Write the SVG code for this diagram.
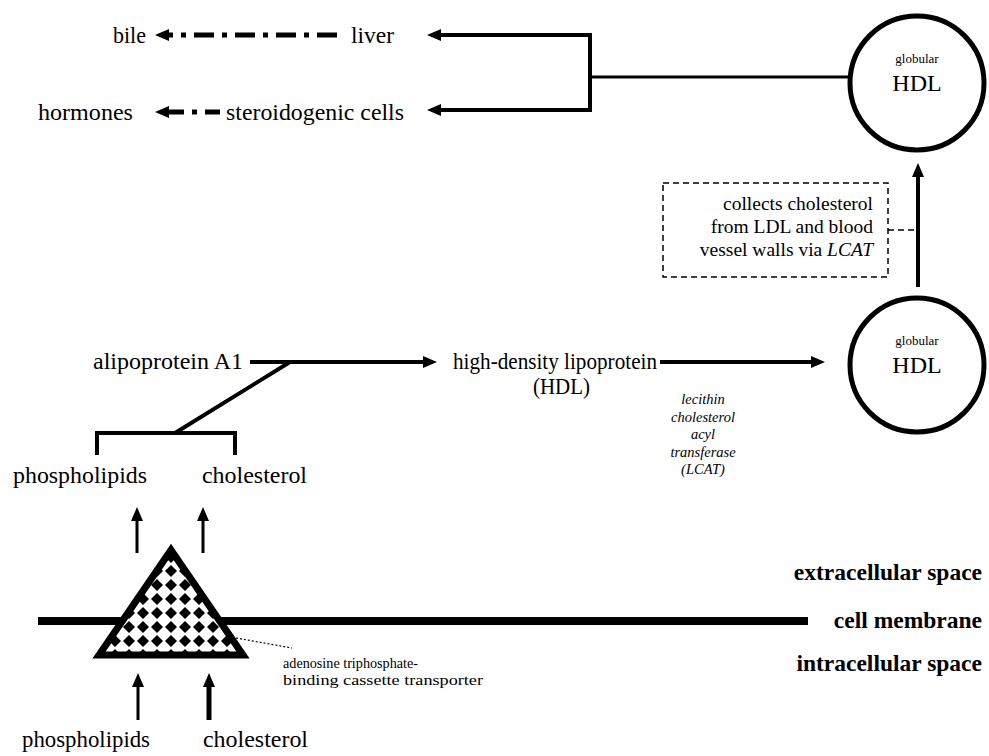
<svg xmlns="http://www.w3.org/2000/svg" width="989" height="756" viewBox="0 0 989 756">
<style>
text{font-family:"Liberation Serif","Times New Roman",serif;fill:#000}
.m{font-size:23px}
.b{font-size:23.5px;font-weight:bold}
.s{font-size:13px}
.h{font-size:24px}
.bx{font-size:19.5px}
.it{font-size:14.5px;font-style:italic}
.ln{stroke:#000;fill:none}
</style>
<defs>
<marker id="ah" viewBox="0 0 14 12" markerWidth="14" markerHeight="12" refX="4" refY="6" orient="auto" markerUnits="userSpaceOnUse"><path d="M0,0 L14,6 L0,12 z" fill="#000"/></marker>
<pattern id="chk" width="14" height="14" patternUnits="userSpaceOnUse" x="164" y="550"><rect width="14" height="14" fill="#fff"/><path d="M7,1 L13,7 L7,13 L1,7 z" fill="#000"/></pattern>
</defs>
<g id="connectors">
<line class="ln" x1="337" y1="35" x2="165" y2="35" stroke-width="5" stroke-dasharray="20 8 5 8" marker-end="url(#ah)"/>
<line class="ln" x1="220" y1="112" x2="165" y2="112" stroke-width="5" stroke-dasharray="15 8 5 8" marker-end="url(#ah)"/>
<line class="ln" x1="590" y1="35" x2="437" y2="35" stroke-width="4" marker-end="url(#ah)"/>
<line class="ln" x1="590" y1="110" x2="437" y2="110" stroke-width="4" marker-end="url(#ah)"/>
<line class="ln" x1="590" y1="33" x2="590" y2="112" stroke-width="4"/>
<line class="ln" x1="590" y1="77" x2="850" y2="77" stroke-width="3"/>
<line class="ln" x1="918" y1="287" x2="918" y2="173" stroke-width="4" marker-end="url(#ah)"/>
<line class="ln" x1="888" y1="230" x2="918" y2="230" stroke-width="1.5" stroke-dasharray="6 4"/>
<line class="ln" x1="250" y1="362" x2="427" y2="362" stroke-width="4" marker-end="url(#ah)"/>
<line class="ln" x1="660" y1="362" x2="815" y2="362" stroke-width="4" marker-end="url(#ah)"/>
<line class="ln" x1="290" y1="362" x2="175" y2="433" stroke-width="4"/>
<path class="ln" d="M97 455 V433 H235 V455" stroke-width="4"/>
<line class="ln" x1="137" y1="553" x2="137" y2="517" stroke-width="3" marker-end="url(#ah)"/>
<line class="ln" x1="203" y1="553" x2="203" y2="517" stroke-width="3" marker-end="url(#ah)"/>
<line class="ln" x1="138" y1="720" x2="138" y2="683" stroke-width="3" marker-end="url(#ah)"/>
<line class="ln" x1="209" y1="720" x2="209" y2="683" stroke-width="5" marker-end="url(#ah)"/>
<line class="ln" x1="236" y1="638" x2="292" y2="648" stroke-width="1.2" stroke-dasharray="2 2"/>
</g>
<g id="bile"><text class="m" x="113" y="43" textLength="33" lengthAdjust="spacingAndGlyphs">bile</text></g>
<g id="liver"><text class="m" x="351" y="43" textLength="43" lengthAdjust="spacingAndGlyphs">liver</text></g>
<g id="hormones"><text class="m" x="38" y="120" textLength="95" lengthAdjust="spacingAndGlyphs">hormones</text></g>
<g id="steroidogenic"><text class="m" x="226" y="120" textLength="178" lengthAdjust="spacingAndGlyphs">steroidogenic cells</text></g>
<g id="hdl-top"><circle cx="917" cy="83" r="67" fill="#fff" stroke="#000" stroke-width="5"/><text class="s" x="917" y="63" text-anchor="middle">globular</text><text class="h" x="917" y="91" text-anchor="middle">HDL</text></g>
<g id="collect-note"><rect x="663" y="183" width="225" height="94" fill="none" stroke="#000" stroke-width="1.5" stroke-dasharray="6 4"/>
<text class="bx" x="873" y="210" text-anchor="end">collects cholesterol</text>
<text class="bx" x="873" y="233" text-anchor="end">from LDL and blood</text>
<text class="bx" x="873" y="256" text-anchor="end">vessel walls via <tspan font-style="italic">LCAT</tspan></text></g>
<g id="hdl-bottom"><circle cx="917" cy="365" r="67" fill="#fff" stroke="#000" stroke-width="5"/><text class="s" x="917" y="345" text-anchor="middle">globular</text><text class="h" x="917" y="373" text-anchor="middle">HDL</text></g>
<g id="apoA1"><text class="m" x="93" y="369" textLength="150" lengthAdjust="spacingAndGlyphs">alipoprotein A1</text></g>
<g id="hdl"><text class="m" x="453" y="369" textLength="204" lengthAdjust="spacingAndGlyphs">high-density lipoprotein</text><text class="m" x="533" y="394" textLength="57" lengthAdjust="spacingAndGlyphs">(HDL)</text></g>
<g id="lcat"><text class="it" text-anchor="middle"><tspan x="703" y="404">lecithin</tspan><tspan x="703" y="421.5">cholesterol</tspan><tspan x="703" y="439">acyl</tspan><tspan x="703" y="456.5">transferase</tspan><tspan x="703" y="474">(LCAT)</tspan></text></g>
<g id="phospholipids-out"><text class="m" x="13" y="483" textLength="134" lengthAdjust="spacingAndGlyphs">phospholipids</text></g>
<g id="cholesterol-out"><text class="m" x="202" y="483" textLength="105" lengthAdjust="spacingAndGlyphs">cholesterol</text></g>
<g id="membrane"><line x1="38" y1="621" x2="808" y2="621" stroke="#000" stroke-width="8"/></g>
<g id="transporter"><polygon points="171,550 99,655 243,655" fill="url(#chk)" stroke="#000" stroke-width="7" stroke-linejoin="miter"/>
<text font-size="15" x="283" y="668" textLength="135" lengthAdjust="spacingAndGlyphs">adenosine triphosphate-</text>
<text font-size="15" x="283" y="685" textLength="200" lengthAdjust="spacingAndGlyphs">binding cassette transporter</text></g>
<g id="phospholipids-in"><text class="m" x="22" y="747" textLength="128" lengthAdjust="spacingAndGlyphs">phospholipids</text></g>
<g id="cholesterol-in"><text class="m" x="203" y="747" textLength="105" lengthAdjust="spacingAndGlyphs">cholesterol</text></g>
<g id="labels"><text class="b" x="982" y="580" text-anchor="end">extracellular space</text>
<text class="b" x="982" y="628" text-anchor="end">cell membrane</text>
<text class="b" x="982" y="671" text-anchor="end">intracellular space</text></g>
</svg>
